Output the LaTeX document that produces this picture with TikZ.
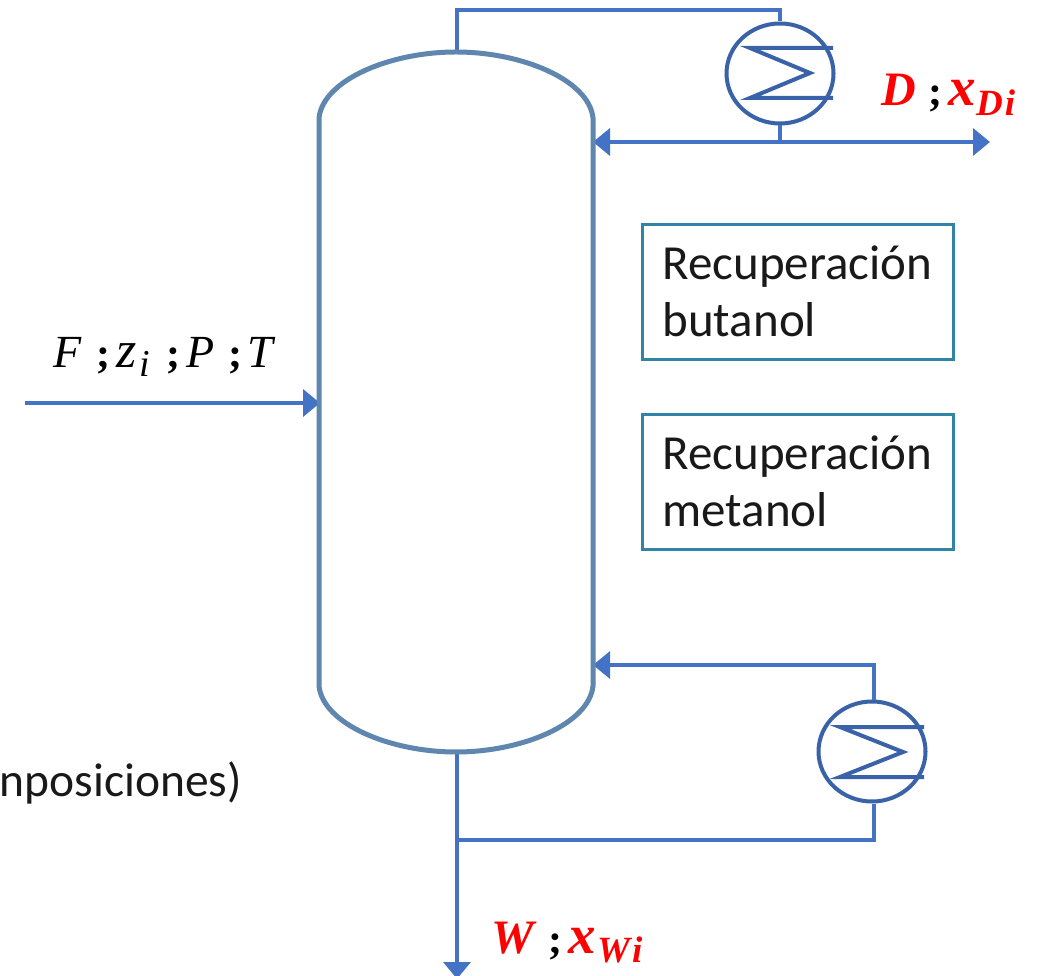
\documentclass[tikz,border=0pt]{standalone}
\usepackage{fontspec}
\setmainfont{Carlito}
\newfontfamily\eqfont{Liberation Serif}
\usetikzlibrary{arrows.meta,shapes.geometric}
\definecolor{pipe}{HTML}{4472C4}
\definecolor{hx}{HTML}{3A62A8}
\definecolor{col}{HTML}{5F86AE}
\definecolor{boxc}{HTML}{2F84A8}
\tikzset{
 x=1pt,y=1pt,
 pipeline/.style={draw=pipe,line width=3.6pt},
 flow/.style={pipeline,-{Triangle[length=17pt,width=27pt]}},
 hxring/.style={ellipse,draw=hx,line width=4pt,minimum width=107pt,minimum height=100pt,inner sep=0pt},
 hxcoil/.style={draw=hx,line width=4pt,line join=miter},
 infobox/.style={draw=boxc,line width=3pt,minimum width=311pt,minimum height=135pt,inner sep=0pt},
 infotext/.style={font=\fontsize{49}{57}\selectfont,align=left,anchor=west,text=black!90},
 mlabel/.style={font=\fontsize{46}{50}\selectfont\eqfont\itshape,text=black,inner sep=0pt},
 mxlabel/.style={font=\fontsize{52}{50}\selectfont\eqfont\itshape,text=black,inner sep=0pt},
 rlabel/.style={font=\fontsize{48}{50}\selectfont\eqfont\bfseries\itshape,text=red,inner sep=0pt},
 rxlabel/.style={font=\fontsize{55}{50}\selectfont\eqfont\bfseries\itshape,text=red,inner sep=0pt},
 semi/.style={font=\fontsize{42}{50}\selectfont\eqfont\bfseries,text=black,inner sep=0pt},
 subl/.style={font=\fontsize{38}{40}\selectfont\eqfont\itshape,text=black,inner sep=0pt},
 subr/.style={font=\fontsize{37}{40}\selectfont\eqfont\bfseries\itshape,text=red,inner sep=0pt},
}
\begin{document}
\begin{tikzpicture}
\useasboundingbox (0,0) rectangle (1038,975);
\fill[white] (0,0) rectangle (1038,975);
% named points
\coordinate (coltop) at (457,923);
\coordinate (colbot) at (457,223);
\coordinate (feedin) at (25,572);
\coordinate (feedend) at (320,572);
\coordinate (refluxin) at (593,833);
\coordinate (distend) at (990,833);
\coordinate (reboilin) at (593,310);
\coordinate (wend) at (457,-4);
\coordinate (wjunc) at (457,135);
\coordinate (dcorner) at (457,965);
\coordinate (rcornerA) at (874,310);
\coordinate (rcornerB) at (874,135);
\node[hxring] (cond) at (780,901.5) {};
\node[hxring] (reb) at (872,223.5) {};
\coordinate (dtop) at (780,965);
\coordinate (djunc) at (780,833);
% pipes
\draw[pipeline,line join=miter] (coltop) -- (dcorner) -- (dtop) -- (cond.north);
\draw[pipeline] (cond.south) -- (djunc);
\draw[flow] (djunc) -- (distend);
\draw[flow] (djunc) -- (refluxin);
\draw[flow] (feedin) -- (feedend);
\draw[flow] (rcornerA |- reb.north) -- (rcornerA) -- (reboilin);
\draw[pipeline] (rcornerB |- reb.south) -- (rcornerB) -- (wjunc);
\draw[flow] (colbot) -- (wend);
% column
\draw[col,line width=5pt] (319,857) .. controls (323,895) and (390,923) .. (456,923)
  .. controls (522,923) and (589,895) .. (593,857) -- (593,289)
  .. controls (589,251) and (522,223) .. (456,223)
  .. controls (390,223) and (323,251) .. (319,289) -- cycle;
% exchangers
\draw[hxcoil] (833,927) -- (750,927) -- (810,902) -- (750,877) -- (833,877);
\draw[hxcoil] (924,248) -- (840,248) -- (903,223) -- (840,198) -- (924,198);
% boxes
\node[infobox] (b1) at (798,683) {};
\node[infobox] (b2) at (798,493) {};
\node[infotext] (t1) at (659,684) {Recuperación\\butanol};
\node[infotext] (t2) at (659,494) {Recuperación\\metanol};
\node[font=\fontsize{47.5}{56}\selectfont,anchor=east,inner sep=0pt,text=black!90] (cut) at (242,192) {nposiciones)};
% labels
\node[mlabel,anchor=base west] (lf) at (53,607) {F};
\node[semi,anchor=base west] (s1) at (96,607) {;};
\node[mxlabel,anchor=base west] (lz) at (116,607) {z};
\node[subl,anchor=base west] (li) at (139,598) {i};
\node[semi,anchor=base west] (s2) at (166,607) {;};
\node[mlabel,anchor=base west] (lp) at (186,607) {P};
\node[semi,anchor=base west] (s3) at (228,607) {;};
\node[mlabel,anchor=base west] (lt) at (247,607) {T};
\node[rlabel,anchor=base west] (ld) at (881,869) {D};
\node[semi,anchor=base west] (s4) at (928,869) {;};
\node[rxlabel,anchor=base west] (lx) at (948,869) {x};
\node[subr,anchor=base west] (ldi) at (976,859) {D\kern2pt i};
\node[rlabel,anchor=base west] (lw) at (491,22) {W};
\node[semi,anchor=base west] (s5) at (548,22) {;};
\node[rxlabel,anchor=base west] (lx2) at (568,22) {x};
\node[subr,anchor=base west] (lwi) at (597,13) {W\kern2pt i};
\end{tikzpicture}
\end{document}
